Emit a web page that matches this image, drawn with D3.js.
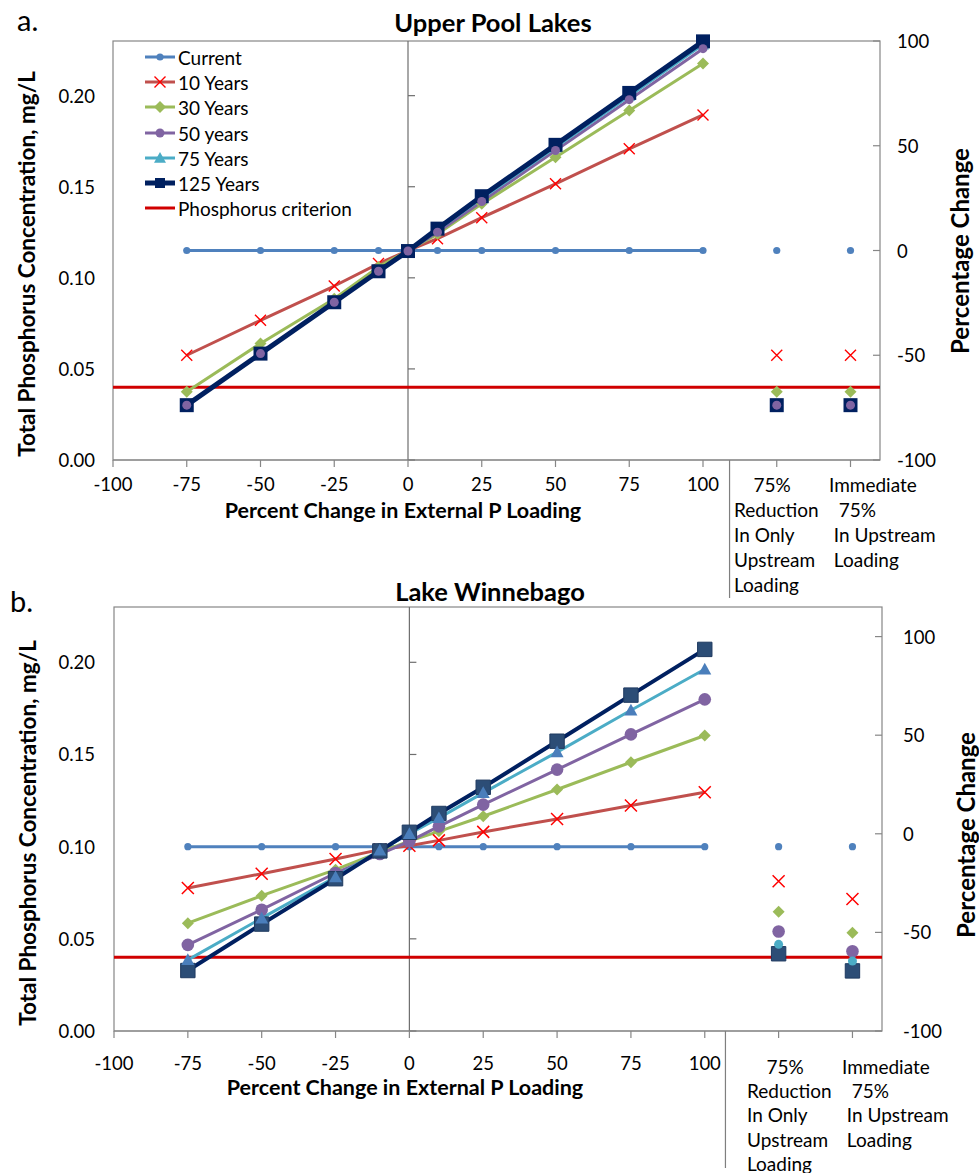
<!DOCTYPE html>
<html>
<head>
<meta charset="utf-8">
<script src="https://cdn.jsdelivr.net/npm/d3@7"></script>
<style>
  body { margin: 0; background: #fff; }
  svg text { font-family: Lato, "Open Sans", sans-serif; fill: #000; white-space: pre; }
</style>
</head>
<body>
<svg id="fig" width="979" height="1173"></svg>
<script>
// ---- shared axis values ----
const loadingChange = [-75, -50, -25, -10, 0, 10, 25, 50, 75, 100];
const scenarioX = [125, 150];
const xTickValues = [-100, -75, -50, -25, 0, 25, 50, 75, 100, 125, 150];
const xTickLabels = ["-100", "-75", "-50", "-25", "0", "25", "50", "75", "100", "", ""];
const concTicks = [0, 0.05, 0.10, 0.15, 0.20];
const pctTicks = [-100, -50, 0, 50, 100];
const scenarioLabels = [
  ["    75%", "Reduction", "In Only", "Upstream", "Loading"],
  ["Immediate", "  75%", " In Upstream", " Loading"]
];
const seriesNames = ["Current", "10 Years", "30 Years", "50 years", "75 Years", "125 Years"];
const criterionName = "Phosphorus criterion";
const criterion = 0.04;

// ---- Upper Pool Lakes (mg/L) ----
const upperCurrent = [0.115, 0.115, 0.115, 0.115, 0.115, 0.115, 0.115, 0.115, 0.115, 0.115];
const upper10 = [0.0575, 0.0767, 0.0955, 0.1078, 0.115, 0.1215, 0.1330, 0.1516, 0.1708, 0.1894];
const upper30 = [0.0374, 0.0640, 0.0885, 0.1060, 0.115, 0.1240, 0.1406, 0.1662, 0.1918, 0.2177];
const upper50 = [0.0301, 0.0584, 0.0866, 0.1036, 0.1147, 0.1250, 0.1419, 0.1699, 0.1978, 0.2258];
const upper75 = [0.0301, 0.0584, 0.0866, 0.1036, 0.1147, 0.1262, 0.1436, 0.1716, 0.1998, 0.2280];
const upper125 = [0.0301, 0.0584, 0.0866, 0.1036, 0.1147, 0.1270, 0.1448, 0.1730, 0.2015, 0.2298];
const upperScenario = {
  "Current": [0.115, 0.115],
  "10 Years": [0.0575, 0.0575],
  "30 Years": [0.0374, 0.0374],
  "50 years": [0.0301, 0.0301],
  "75 Years": [0.0301, 0.0301],
  "125 Years": [0.0301, 0.0301]
};

// ---- Lake Winnebago (mg/L) ----
const winCurrent = [0.100, 0.100, 0.100, 0.100, 0.100, 0.100, 0.100, 0.100, 0.100, 0.100];
const win10 = [0.0776, 0.0853, 0.0933, 0.0984, 0.1005, 0.1034, 0.1080, 0.1150, 0.1223, 0.1295];
const win30 = [0.0585, 0.0734, 0.0875, 0.0970, 0.1030, 0.1083, 0.1165, 0.1310, 0.1458, 0.1603];
const win50 = [0.0467, 0.0658, 0.0857, 0.0960, 0.1029, 0.1110, 0.1228, 0.1418, 0.1609, 0.1799];
const win75 = [0.0386, 0.0612, 0.0835, 0.0980, 0.1070, 0.1156, 0.1292, 0.1513, 0.1740, 0.1962];
const win125 = [0.0328, 0.0580, 0.0826, 0.0977, 0.1078, 0.1180, 0.1322, 0.1572, 0.1822, 0.2070];
const winScenario = {
  "Current": [0.100, 0.100],
  "10 Years": [0.0812, 0.0716],
  "30 Years": [0.0647, 0.0533],
  "50 years": [0.0540, 0.0433],
  "75 Years": [0.0470, 0.0380],
  "125 Years": [0.0419, 0.0326]
};

// marker shapes; the size argument is used as half-width
const shapes = {
  circle:   { draw(c, r) { c.moveTo(r, 0); c.arc(0, 0, r, 0, 2 * Math.PI); } },
  square:   { draw(c, r) { c.rect(-r, -r, 2 * r, 2 * r); } },
  diamond:  { draw(c, r) { c.moveTo(0, -r); c.lineTo(r, 0); c.lineTo(0, r); c.lineTo(-r, 0); c.closePath(); } },
  triangle: { draw(c, r) { c.moveTo(0, -r); c.lineTo(r, r * 0.8); c.lineTo(-r, r * 0.8); c.closePath(); } },
  cross:    { draw(c, r) { c.moveTo(-r, -r); c.lineTo(r, r); c.moveTo(r, -r); c.lineTo(-r, r); } }
};

const FONT = { tick: "18.5px", label: "19px", title: "25.5px", tag: "29px",
               xTitle: "21.5px", yTitle: "22.5px", y2Title: "24px" };

const svg = d3.select("#fig");
svg.append("rect").attr("width", 979).attr("height", 1173).attr("fill", "#fff");

function drawPanel(p) {
  const g = svg.append("g");
  const x = d3.scaleLinear().domain([-100, 160]).range([p.left, p.right]);
  const y = d3.scaleLinear().domain([0, 0.23]).range([p.bottom, p.top]);
  const y2 = d3.scaleLinear().domain([-100, p.pctMax]).range([p.bottom, p.top]);
  const axisColor = "#868686";

  // plot frame
  g.append("rect").attr("x", p.left).attr("y", p.top)
    .attr("width", p.right - p.left).attr("height", p.bottom - p.top)
    .attr("fill", "none").attr("stroke", axisColor).attr("stroke-width", 1.2);

  // value axis crossing at x = 0
  g.append("line").attr("x1", x(0)).attr("x2", x(0)).attr("y1", p.top).attr("y2", p.bottom)
    .attr("stroke", "#6e6e6e").attr("stroke-width", 1.2);
  g.selectAll(null).data(concTicks).join("line")
    .attr("x1", x(0)).attr("x2", x(0) + 7).attr("y1", d => y(d)).attr("y2", d => y(d))
    .attr("stroke", "#6e6e6e").attr("stroke-width", 1.2);
  g.selectAll(null).data(concTicks).join("text")
    .attr("x", p.left - p.yLabelGap).attr("y", d => y(d)).attr("text-anchor", "end")
    .attr("dominant-baseline", "central").style("font-size", FONT.tick)
    .text(d3.format(".2f"));

  // secondary (percentage) axis
  g.selectAll(null).data(pctTicks).join("line")
    .attr("x1", p.right - 7).attr("x2", p.right).attr("y1", d => y2(d)).attr("y2", d => y2(d))
    .attr("stroke", axisColor).attr("stroke-width", 1.2);
  g.selectAll(null).data(pctTicks).join("text")
    .attr("x", p.right + p.y2LabelGap).attr("y", d => y2(d)).attr("text-anchor", "start")
    .attr("dominant-baseline", "central").style("font-size", FONT.tick)
    .text(d => d);

  // category axis
  g.append("line").attr("x1", p.left).attr("x2", p.right).attr("y1", p.bottom).attr("y2", p.bottom)
    .attr("stroke", axisColor).attr("stroke-width", 1.2);
  g.selectAll(null).data(xTickValues).join("line")
    .attr("x1", d => x(d)).attr("x2", d => x(d)).attr("y1", p.bottom).attr("y2", p.bottom + 7)
    .attr("stroke", axisColor).attr("stroke-width", 1.2);
  g.selectAll(null).data(xTickValues).join("text")
    .attr("x", d => x(d)).attr("y", p.bottom + p.xLabelDy).attr("text-anchor", "middle")
    .attr("dominant-baseline", "central").style("font-size", FONT.tick)
    .text((d, i) => xTickLabels[i]);

  // divider between loading scenarios and the upstream-reduction cases
  g.append("line").attr("x1", x(p.dividerAt)).attr("x2", x(p.dividerAt))
    .attr("y1", p.bottom).attr("y2", p.dividerEnd)
    .attr("stroke", "#7f7f7f").attr("stroke-width", 1.2);

  scenarioLabels.forEach((lines, ci) => {
    lines.forEach((t, li) => {
      g.append("text").attr("x", p.scenCols[ci]).attr("y", p.scenRows[li])
        .attr("dominant-baseline", "central").style("font-size", FONT.label).text(t);
    });
  });

  // phosphorus criterion
  g.append("line").attr("x1", p.left).attr("x2", p.right)
    .attr("y1", y(criterion)).attr("y2", y(criterion))
    .attr("stroke", "#D00000").attr("stroke-width", 3);

  // series lines
  const line = d3.line().x(d => x(d[0])).y(d => y(d[1]));
  p.series.forEach(s => {
    const st = p.styles[s.name];
    g.append("path").datum(loadingChange.map((lv, i) => [lv, s.values[i]]))
      .attr("d", line).attr("fill", "none")
      .attr("stroke", st.line).attr("stroke-width", st.w)
      .attr("stroke-linejoin", "round");
  });

  // markers, including the two upstream-reduction cases
  p.markerOrder.forEach(name => {
    const s = p.series.find(q => q.name === name);
    const st = p.styles[name];
    const pts = loadingChange.map((lv, i) => ({ x: lv, v: s.values[i], shape: st.shape, r: st.r }));
    p.scenario[name].forEach((v, i) => pts.push({
      x: scenarioX[i], v: v, shape: st.scenShape || st.shape, r: st.scenR || st.r,
      fill: st.scenFill
    }));
    g.selectAll(null).data(pts).join("path")
      .attr("transform", d => `translate(${x(d.x)},${y(d.v)})`)
      .attr("d", d => d3.symbol(shapes[d.shape], d.r)())
      .attr("fill", d => st.shape === "cross" ? "none" : (d.fill || st.fill))
      .attr("stroke", st.stroke || "none")
      .attr("stroke-width", st.sw || 0);
  });

  // titles
  g.append("text").attr("x", p.titleX).attr("y", p.titleY).attr("text-anchor", "middle")
    .attr("dominant-baseline", "central").style("font-size", FONT.title).style("font-weight", "bold")
    .text(p.title);
  g.append("text").attr("x", p.tagX).attr("y", p.tagY)
    .attr("dominant-baseline", "central").style("font-size", FONT.tag)
    .text(p.tag);
  g.append("text").attr("x", p.xTitleX).attr("y", p.xTitleY).attr("text-anchor", "middle")
    .attr("dominant-baseline", "central").style("font-size", FONT.xTitle).style("font-weight", "bold")
    .text("Percent Change in External P Loading");
  g.append("text").attr("transform", `translate(${p.yTitleX},${p.yTitleY}) rotate(-90)`)
    .attr("text-anchor", "middle").attr("dominant-baseline", "central")
    .style("font-size", FONT.yTitle).style("font-weight", "bold")
    .text("Total Phosphorus Concentration, mg/L");
  g.append("text").attr("transform", `translate(${p.y2TitleX},${p.y2TitleY}) rotate(-90)`)
    .attr("text-anchor", "middle").attr("dominant-baseline", "central")
    .style("font-size", FONT.y2Title).style("font-weight", "bold")
    .text("Percentage Change");

  if (p.legend) {
    const L = p.legend;
    const items = seriesNames.concat([criterionName]);
    items.forEach((name, i) => {
      const yy = L.rows[i];
      const st = name === criterionName ? { line: "#D00000", w: 3 } : p.styles[name];
      g.append("line").attr("x1", L.x0).attr("x2", L.x1).attr("y1", yy).attr("y2", yy)
        .attr("stroke", st.line).attr("stroke-width", st.w);
      if (st.shape) {
        g.append("path").attr("transform", `translate(${(L.x0 + L.x1) / 2},${yy})`)
          .attr("d", d3.symbol(shapes[st.shape], st.legendR || st.r)())
          .attr("fill", st.shape === "cross" ? "none" : st.fill)
          .attr("stroke", st.stroke || "none").attr("stroke-width", st.sw || 0);
      }
      g.append("text").attr("x", L.tx).attr("y", yy).attr("dominant-baseline", "central")
        .style("font-size", FONT.label).text(name);
    });
  }
}

const stylesUpper = {
  "Current":   { line: "#4F81BD", w: 3, shape: "circle", r: 3.6, fill: "#4F81BD" },
  "10 Years":  { line: "#C0504D", w: 3, shape: "cross", r: 5.5, stroke: "#FF0000", sw: 1.4 },
  "30 Years":  { line: "#9BBB59", w: 3, shape: "diamond", r: 6, fill: "#9BBB59" },
  "50 years":  { line: "#8064A2", w: 3, shape: "circle", r: 4.5, fill: "#8064A2" },
  "75 Years":  { line: "#4BACC6", w: 3, shape: "triangle", r: 6, fill: "#4BACC6" },
  "125 Years": { line: "#002060", w: 5, shape: "square", r: 7, legendR: 5, fill: "#002060" }
};
const stylesWin = {
  "Current":   { line: "#4F81BD", w: 3, shape: "circle", r: 3.6, fill: "#4F81BD" },
  "10 Years":  { line: "#C0504D", w: 3, shape: "cross", r: 6, stroke: "#FF0000", sw: 1.5 },
  "30 Years":  { line: "#9BBB59", w: 3, shape: "diamond", r: 6, fill: "#9BBB59" },
  "50 years":  { line: "#8064A2", w: 3, shape: "circle", r: 6.3, fill: "#8064A2" },
  "75 Years":  { line: "#4BACC6", w: 3, shape: "triangle", r: 6.5, fill: "#4A7EBB",
                 scenShape: "circle", scenR: 4.5, scenFill: "#4BACC6" },
  "125 Years": { line: "#002060", w: 4, shape: "square", r: 7.2, fill: "#2C4D76", stroke: "#1F3A60", sw: 1 }
};

drawPanel({
  left: 113, right: 880, top: 41, bottom: 460, pctMax: 100,
  yLabelGap: 18, y2LabelGap: 17, xLabelDy: 24,
  dividerAt: 109, dividerEnd: 598,
  scenCols: [734, 829], scenRows: [484, 509, 534, 559, 584],
  title: "Upper Pool Lakes", titleX: 493, titleY: 22,
  tag: "a.", tagX: 17, tagY: 19,
  xTitleX: 403, xTitleY: 510, yTitleX: 26, yTitleY: 264, y2TitleX: 959, y2TitleY: 251,
  series: [
    { name: "Current", values: upperCurrent }, { name: "10 Years", values: upper10 },
    { name: "30 Years", values: upper30 }, { name: "50 years", values: upper50 },
    { name: "75 Years", values: upper75 }, { name: "125 Years", values: upper125 }
  ],
  scenario: upperScenario, styles: stylesUpper,
  markerOrder: ["Current", "10 Years", "30 Years", "75 Years", "125 Years", "50 years"],
  legend: { x0: 145, x1: 175, tx: 178, rows: [57, 82, 107, 133, 158, 183, 208] }
});

drawPanel({
  left: 114, right: 882, top: 607, bottom: 1031, pctMax: 115,
  yLabelGap: 19, y2LabelGap: 21, xLabelDy: 32,
  dividerAt: 107, dividerEnd: 1168,
  scenCols: [747, 842], scenRows: [1066, 1090, 1114, 1139, 1163],
  title: "Lake Winnebago", titleX: 490, titleY: 591,
  tag: "b.", tagX: 10, tagY: 600,
  xTitleX: 405, xTitleY: 1087, yTitleX: 27, yTitleY: 833, y2TitleX: 965, y2TitleY: 835,
  series: [
    { name: "Current", values: winCurrent }, { name: "10 Years", values: win10 },
    { name: "30 Years", values: win30 }, { name: "50 years", values: win50 },
    { name: "75 Years", values: win75 }, { name: "125 Years", values: win125 }
  ],
  scenario: winScenario, styles: stylesWin,
  markerOrder: ["Current", "10 Years", "30 Years", "50 years", "125 Years", "75 Years"],
  legend: null
});
</script>
</body>
</html>
